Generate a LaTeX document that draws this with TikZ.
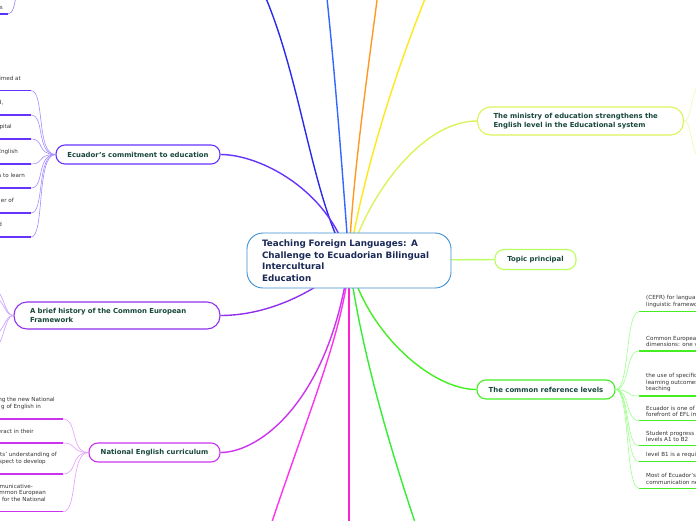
\documentclass[tikz,border=0pt]{standalone}
\usepackage{fontspec}
\setmainfont{DejaVu Sans}
\usepackage{xcolor}

\definecolor{rootblue}{HTML}{3E8FD4}
\definecolor{roottext}{HTML}{1B2A57}
\definecolor{labelgreen}{HTML}{17473B}
\definecolor{leafgray}{HTML}{333333}
\definecolor{commitc}{HTML}{6633FF}
\definecolor{commitl}{HTML}{A58CFF}
\definecolor{historyc}{HTML}{9030EC}
\definecolor{historyl}{HTML}{C99CFF}
\definecolor{curricc}{HTML}{CC33F0}
\definecolor{curricl}{HTML}{E39CFF}
\definecolor{ministryc}{HTML}{DDF25A}
\definecolor{ministryl}{HTML}{EEF8A8}
\definecolor{topicc}{HTML}{B8FF5C}
\definecolor{levelsc}{HTML}{44EE22}
\definecolor{levelsl}{HTML}{9CFF8C}
\definecolor{bluea}{HTML}{2A2AE8}
\definecolor{blueb}{HTML}{3366FF}
\definecolor{orangec}{HTML}{FF9922}
\definecolor{yellowc}{HTML}{FFE81A}
\definecolor{magentaa}{HTML}{FF33EE}
\definecolor{magentab}{HTML}{FF22CC}
\definecolor{greenb}{HTML}{33EE33}
\definecolor{topleftc}{HTML}{5533FF}
\definecolor{topleftl}{HTML}{8F7DFF}

\pgfdeclarelayer{bg}
\pgfsetlayers{bg,main}

\begin{document}
\begin{tikzpicture}[x=1pt, y=-1pt,
  topicbox/.style={draw, fill=white, line width=1.1pt, text=labelgreen,
                   font=\fontsize{6.9}{8.8}\selectfont\bfseries, inner ysep=0pt},
  pill/.style={topicbox, rounded corners=9pt, minimum height=19pt, inner xsep=0pt},
  leaf/.style={font=\fontsize{5.6}{6.4}\selectfont, text=leafgray,
               inner sep=0pt, align=left},
  branch/.style={line width=1.4pt},
  twig/.style={line width=0.6pt},
  rule/.style={line width=1.4pt}]

  \useasboundingbox (0,0) rectangle (696,520);

  %--- Central topic -------------------------------------------------------
  \node[draw=rootblue, fill=white, line width=0.9pt, rounded corners=16pt,
        text=roottext, font=\fontsize{8.8}{11.5}\selectfont\bfseries,
        text width=174pt, inner xsep=15pt, inner ysep=0pt, minimum height=55pt,
        align=left] (root) at (349,260.5)
        {Teaching Foreign Languages: A\\Challenge to Ecuadorian Bilingual\\Intercultural\\Education};

  %--- Main topics ---------------------------------------------------------
  \node[pill, draw=commitc, minimum width=164pt] (commit) at (138,154.5)
        {Ecuador's commitment to education};
  \node[topicbox, draw=historyc, rounded corners=13pt, minimum height=27pt,
        text width=174pt, inner xsep=16pt, align=left] (history) at (117,315.5)
        {A brief history of the Common European\\Framework};
  \node[pill, draw=curricc, minimum width=131pt] (curric) at (154.5,452.5)
        {National English curriculum};
  \node[topicbox, draw=ministryc, rounded corners=13pt, minimum height=28pt,
        text width=174pt, inner xsep=16pt, align=left] (ministry) at (580.5,121)
        {The ministry of education strengthens the\\English level in the Educational system};
  \node[pill, draw=topicc, minimum width=81pt, minimum height=20pt] (topic) at (535.5,259.5)
        {Topic principal};
  \node[pill, draw=levelsc, minimum width=138pt] (levels) at (546,389.5)
        {The common reference levels};

  %--- Branches leaving the picture ----------------------------------------
  \coordinate (up1) at (255,-25);
  \coordinate (up2) at (324,-30);
  \coordinate (up3) at (381,-30);
  \coordinate (up4) at (437,-30);
  \coordinate (dn1) at (266,540);
  \coordinate (dn2) at (349,540);
  \coordinate (dn3) at (421,540);

  \begin{pgfonlayer}{bg}
    \draw[branch, bluea]    (root.center) .. controls (310,200) and (300,60) .. (up1);
    \draw[branch, blueb]    (root.center) .. controls (343,180) and (335,70) .. (up2);
    \draw[branch, orangec]  (root.center) .. controls (352,180) and (368,70) .. (up3);
    \draw[branch, yellowc]  (root.center) .. controls (360,190) and (390,80) .. (up4);
    \draw[branch, magentaa] (root.center) .. controls (345,330) and (305,420) .. (dn1);
    \draw[branch, magentab] (root.center) -- (dn2);
    \draw[branch, greenb]   (root.center) .. controls (358,330) and (380,420) .. (dn3);

    %--- Branches to the main topics ---------------------------------------
    \draw[branch, commitc]   (root.center) .. controls (330,190) and (260,154.5) .. (commit.east);
    \draw[branch, historyc]  (root.center) .. controls (320,290) and (270,315.5) .. (history.east);
    \draw[branch, curricc]   (root.center) .. controls (330,400) and (260,452.5) .. (curric.east);
    \draw[branch, ministryc] (root.center) .. controls (365,200) and (420,121) .. (ministry.west);
    \draw[branch, topicc]    (root.center) -- (topic.west);
    \draw[branch, levelsc]   (root.center) .. controls (365,330) and (430,389.5) .. (levels.west);
  \end{pgfonlayer}

  %--- Leftover leaf at the top left ---------------------------------------
  \coordinate (tl0) at (8,14);
  \coordinate (tl1) at (17,-12);
  \draw[rule, topleftc] (-40,14) -- (tl0);
  \draw[twig, topleftl] (tl0) .. controls (13,14) and (15,5) .. (tl1);
  \node[leaf, anchor=east] at (3,8) {s};

  %--- Leaves of Ecuador's commitment --------------------------------------
  \foreach \yy/\xe/\txt [count=\i] in {90.7/21/imed at, 115/3.5/{d,}, 139/12/pital,
        164/18/English, 188/25/s to learn, 213/14/er of, 237/2.2/d} {
    \coordinate (cl\i) at (31,\yy);
    \draw[rule, commitc] (-40,\yy) -- (cl\i);
    \draw[twig, commitl] (cl\i) .. controls (45,\yy) and (36,154.5) .. (commit.west);
    \node[leaf, anchor=east] at (\xe,\yy-12.5) {\txt};
  }

  %--- Leaves of the brief history -----------------------------------------
  \foreach \yy [count=\i] in {290, 298, 334, 347} {
    \coordinate (hl\i) at (-6,\yy);
    \draw[twig, historyl] (history.west) .. controls (4,315.5) and (4,\yy) .. (hl\i);
  }

  %--- Leaves of the National English curriculum ---------------------------
  \foreach \yy [count=\i] in {419, 443, 474, 511.7} {
    \coordinate (kl\i) at (63,\yy);
    \draw[rule, curricc] (-40,\yy) -- (kl\i);
    \draw[twig, curricl] (kl\i) .. controls (78,\yy) and (70,452.5) .. (curric.west);
  }
  \foreach \yy/\xe/\txt in {400/55/ng the new National, 407/41/g of English in,
        431/34/eract in their, 455/57/ts' understanding of, 462/46/aspect to develop,
        486/33/Communicative-, 493/46/mmon European, 499.5/46/s for the National} {
    \node[leaf, anchor=east] at (\xe,\yy) {\txt};
  }

  %--- Leaves of the ministry ----------------------------------------------
  \coordinate (ml1) at (702,78);
  \coordinate (ml2) at (702,165);
  \draw[twig, ministryl] (ministry.east) .. controls (692,121) and (689,95) .. (ml1);
  \draw[twig, ministryl] (ministry.east) .. controls (692,121) and (689,148) .. (ml2);

  %--- Leaves of the common reference levels -------------------------------
  \foreach \yy/\txt [count=\i] in {
        311.7/{(CEFR) for langua\\linguistic framewo},
        351/{Common Europea\\dimensions: one v},
        396/{the use of specific\\learning outcomes\\teaching},
        420.7/{Ecuador is one of\\forefront of EFL im},
        445.7/{Student progress a\\levels A1 to B2},
        461.7/{level B1 is a requi},
        488.3/{Most of Ecuador's\\communication ne}} {
    \coordinate (rl\i) at (639,\yy);
    \draw[rule, levelsc] (rl\i) -- (740,\yy);
    \draw[twig, levelsl] (levels.east) .. controls (630,389.5) and (625,\yy) .. (rl\i);
    \node[leaf, anchor=south west] at (646,\yy-4) {\txt};
  }

\end{tikzpicture}
\end{document}
